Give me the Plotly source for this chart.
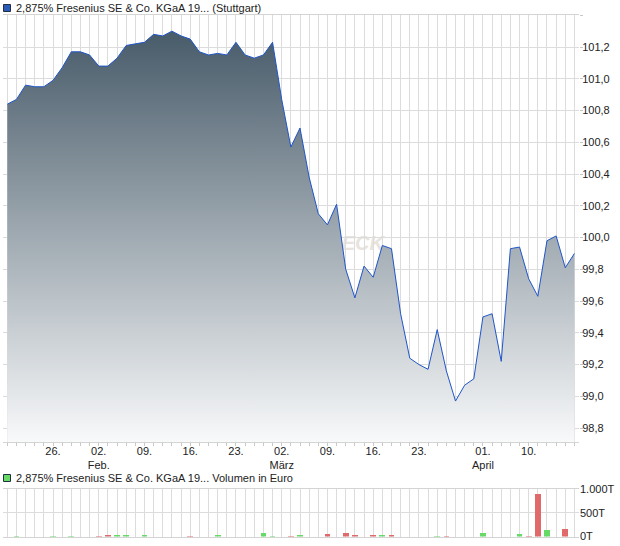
import plotly.graph_objects as go

# ---------------- data ----------------
dates = [
    "19.01.", "20.01.", "21.01.", "22.01.", "23.01.",
    "26.01.", "27.01.", "28.01.", "29.01.", "30.01.",
    "02.02.", "03.02.", "04.02.", "05.02.", "06.02.",
    "09.02.", "10.02.", "11.02.", "12.02.", "13.02.",
    "16.02.", "17.02.", "18.02.", "19.02.", "20.02.",
    "23.02.", "24.02.", "25.02.", "26.02.", "27.02.",
    "02.03.", "03.03.", "04.03.", "05.03.", "06.03.",
    "09.03.", "10.03.", "11.03.", "12.03.", "13.03.",
    "16.03.", "17.03.", "18.03.", "19.03.", "20.03.",
    "23.03.", "24.03.", "25.03.", "26.03.", "27.03.",
    "30.03.", "31.03.", "01.04.", "02.04.",
    "07.04.", "08.04.", "09.04.", "10.04.",
    "13.04.", "14.04.", "15.04.", "16.04.", "17.04.",
]

prices = [
    100.84, 100.87, 100.96, 100.95, 100.95,
    100.99, 101.07, 101.17, 101.17, 101.15,
    101.08, 101.08, 101.13, 101.21, 101.22,
    101.23, 101.28, 101.27, 101.30, 101.27,
    101.25, 101.17, 101.15, 101.16, 101.15,
    101.23, 101.15, 101.13, 101.15, 101.23,
    100.87, 100.57, 100.69, 100.38, 100.15,
    100.08, 100.21, 99.80, 99.62, 99.82,
    99.75, 99.95, 99.93, 99.52, 99.24,
    99.20, 99.17, 99.42, 99.16, 98.97,
    99.07, 99.11, 99.50, 99.52,
    99.22, 99.93, 99.94, 99.74,
    99.63, 99.98, 100.01, 99.81, 99.90,
]

# volume in thousand euro (T)
volumes_t = [
    0, 12, 0, 0, 0,
    12, 0, 12, 0, 0,
    12, 25, 42, 42, 0,
    42, 0, 0, 0, 0,
    12, 0, 0, 25, 0,
    0, 0, 0, 64, 10,
    0, 10, 25, 0, 0,
    45, 0, 64, 25, 0,
    25, 25, 25, 0, 0,
    0, 0, 10, 10, 0,
    0, 0, 70, 0,
    0, 0, 43, 10,
    890, 128, 0, 149, 0,
]
vol_dir = [
    "u", "u", "u", "u", "u",
    "u", "u", "u", "u", "u",
    "d", "d", "u", "u", "u",
    "u", "u", "u", "u", "u",
    "d", "u", "u", "u", "u",
    "u", "u", "u", "u", "u",
    "u", "d", "u", "u", "u",
    "d", "u", "d", "d", "u",
    "d", "u", "d", "u", "u",
    "u", "u", "u", "d", "u",
    "u", "u", "u", "u",
    "u", "u", "u", "d",
    "d", "u", "u", "d", "u",
]

tick_dates = ["26.01.", "02.02.", "09.02.", "16.02.", "23.02.", "02.03.",
              "09.03.", "16.03.", "23.03.", "01.04.", "10.04."]
tick_labels = ["26.", "02.<br>Feb.", "09.", "16.", "23.", "02.<br>März",
               "09.", "16.", "23.", "01.<br>April", "10."]

price_ticks = [98.8, 99.0, 99.2, 99.4, 99.6, 99.8, 100.0, 100.2, 100.4,
               100.6, 100.8, 101.0, 101.2]
price_tick_labels = [f"{v:.1f}".replace(".", ",") for v in price_ticks]
vol_ticks = [0, 500, 1000]
vol_tick_labels = ["0T", "500T", "1.000T"]

title_main = "2,875% Fresenius SE & Co. KGaA 19... (Stuttgart)"
title_vol = "2,875% Fresenius SE & Co. KGaA 19... Volumen in Euro"

# ---------------- figure ----------------
W, H = 620, 546
FONT = "Liberation Sans, Arial, sans-serif"
GRID = "#dcdcdc"
xidx = list(range(len(dates)))
tickvals = [dates.index(d) for d in tick_dates]

def px_x(p):
    return p / W

def px_y(p):
    return 1 - p / H

y_lo, y_hi = 98.714, 101.4

fig = go.Figure()
fig.add_trace(go.Scatter(
    x=xidx, y=prices, mode="lines", fill="tozeroy",
    line=dict(color="#1f55c8", width=1),
    fillgradient=dict(type="vertical",
                      colorscale=[[0, "#f8f9fa"], [1, "#415564"]],
                      start=y_lo, stop=y_hi),
    xaxis="x", yaxis="y", hoverinfo="skip", showlegend=False,
))

bar_colors = ["#66d966" if d == "u" else "#e06a6a" for d in vol_dir]
fig.add_trace(go.Bar(
    x=xidx, y=volumes_t, width=0.62,
    marker=dict(color=bar_colors, line=dict(width=0)),
    xaxis="x2", yaxis="y2", hoverinfo="skip", showlegend=False,
))

xdom = [px_x(2.7), px_x(579)]
common_x = dict(
    range=[-0.5, len(dates) - 0.5], domain=xdom,
    showgrid=True, gridcolor=GRID, gridwidth=1, zeroline=False,
    showline=True, linecolor="#d4d4d4", linewidth=1, mirror=True,
)

fig.update_layout(
    width=W, height=H,
    margin=dict(l=0, r=0, t=0, b=0),
    paper_bgcolor="white", plot_bgcolor="white",
    font=dict(family=FONT, size=11, color="#222222"),
    bargap=0,
    xaxis=dict(
        **common_x,
        tickmode="array", tickvals=tickvals, ticktext=tick_labels,
        ticks="outside", ticklen=3, tickcolor="#c8c8c8",
        ticklabelstandoff=-4,
        tickfont=dict(family=FONT, size=11, color="#222222"),
        minor=dict(tickmode="linear", tick0=0, dtick=1, showgrid=True,
                   gridcolor=GRID, ticks="outside", ticklen=3,
                   tickcolor="#c8c8c8"),
        anchor="y", automargin=False,
    ),
    yaxis=dict(
        domain=[px_y(441.7), px_y(15.3)], range=[y_lo, y_hi],
        side="right", tickmode="array", tickvals=price_ticks + [101.4],
        ticktext=price_tick_labels + [""],
        showgrid=True, gridcolor=GRID, zeroline=False,
        showline=False, ticks="outside", ticklen=3, tickcolor="#c8c8c8",
        ticklabelstandoff=-3,
        tickfont=dict(family=FONT, size=11, color="#222222"),
        anchor="x", automargin=False,
    ),
    xaxis2=dict(
        **common_x,
        matches="x", showticklabels=False, ticks="",
        tickmode="linear", tick0=0, dtick=1,
        anchor="y2", automargin=False,
    ),
    yaxis2=dict(
        domain=[px_y(536.5), px_y(489)], range=[0, 1000],
        side="right", tickmode="array", tickvals=vol_ticks,
        ticktext=vol_tick_labels,
        showgrid=True, gridcolor=GRID, zeroline=False, showline=False,
        ticks="", ticklabelstandoff=0,
        tickfont=dict(family=FONT, size=11, color="#222222"),
        anchor="x2", automargin=False,
    ),
)

# faint watermark behind the area
fig.add_shape(
    type="rect", xref="paper", yref="paper", layer="below",
    x0=px_x(295), x1=px_x(390), y0=px_y(252), y1=px_y(230),
    line=dict(width=0), fillcolor="rgba(0,0,0,0)",
    label=dict(text="<i><b>CHECK</b></i>", textposition="middle right",
               font=dict(family=FONT, size=20, color="#e8e3dc")),
)

# legend-like headers
for ytop, color, text in [(4, "#2a5bb8", title_main), (474, "#66d966", title_vol)]:
    fig.add_shape(type="rect", xref="paper", yref="paper",
                  x0=px_x(3.5), x1=px_x(10.5), y0=px_y(ytop + 7.5), y1=px_y(ytop + 0.5),
                  fillcolor=color, line=dict(color="#203040", width=1))
    fig.add_annotation(xref="paper", yref="paper", x=px_x(14), y=px_y(ytop + 4),
                       xanchor="left", yanchor="middle", showarrow=False,
                       text=text, font=dict(family=FONT, size=11, color="#222222"))

fig.write_html(
    "out.html",
    config={"displayModeBar": False, "staticPlot": True},
    post_script="document.documentElement.style.margin='0';"
                "document.body.style.margin='0';"
                "document.body.style.overflow='hidden';",
)
